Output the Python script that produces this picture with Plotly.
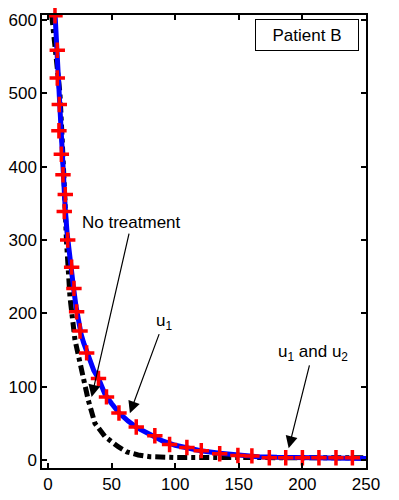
import plotly.graph_objects as go

# No treatment (black dash-dot)
x_none = [2.9, 4.3, 6.5, 9.4, 11, 12, 13.3, 14.5, 15.7, 17.3, 21.2, 25.1, 28.5, 31.6, 36.9, 44.7, 55.2, 62, 70.9, 80, 100, 130, 170, 210, 250]
y_none = [607, 580, 540, 500, 443, 416, 355, 300, 265, 222, 164, 132, 105, 82, 50, 32, 18, 11, 6.8, 4.5, 3.3, 3, 3, 3, 3]

# u1 (blue solid)
x_u1 = [5.5, 6.5, 7.5, 8.5, 9.5, 10.5, 11.5, 12.5, 13.5, 15, 16.5, 18, 20, 22, 24, 26, 28, 30.4, 33, 36, 40, 45, 50, 56, 63, 70, 80, 90, 100, 110, 120, 135, 150, 165, 180, 200, 225, 250]
y_u1 = [610, 575, 540, 500, 460, 425, 395, 368, 345, 310, 285, 262, 236, 210, 188, 172, 160, 147, 134, 122, 110, 89, 77, 64, 53, 44, 35, 26, 20, 16, 12.5, 9, 6.5, 4.5, 3.5, 3, 2.5, 2]

# u1 and u2 (red crosses)
x_u12 = [5.5, 7.3, 7.3, 8.9, 8.6, 10.5, 11.8, 13.6, 12.8, 15.5, 18.6, 20.4, 22.5, 25.2, 30.4, 39.7, 46, 55.8, 69.4, 84, 95.6, 109.2, 120.5, 135, 149.3, 160.3, 174, 186.9, 200, 213, 226.4, 239.3]
y_u12 = [606, 559, 521, 485, 449, 417, 389, 362, 339, 300, 263, 234, 202, 176, 146, 111, 86, 64, 45, 33, 21, 17, 12.7, 8.5, 6, 5.5, 3, 3, 3, 3, 3, 3]

x_ticks = [0, 50, 100, 150, 200, 250]
y_ticks = [0, 100, 200, 300, 400, 500, 600]

FONT = "Liberation Sans, Arial, sans-serif"

fig = go.Figure()
fig.add_trace(go.Scatter(x=x_none, y=y_none, mode="lines",
                         line=dict(color="black", width=5, dash="10px,4px,4px,4px"),
                         showlegend=False))
fig.add_trace(go.Scatter(x=x_u1, y=y_u1, mode="lines",
                         line=dict(color="#0000ff", width=5), showlegend=False))
fig.add_trace(go.Scatter(x=x_u12, y=y_u12, mode="markers",
                         marker=dict(symbol="cross-thin", size=11,
                                     line=dict(color="#ff0000", width=3.5)),
                         cliponaxis=False, showlegend=False))

ann_font = dict(family=FONT, size=17, color="black")
arrow = dict(showarrow=True, arrowhead=2, arrowsize=2, arrowwidth=1.2, arrowcolor="black")
fig.add_annotation(x=34.3, y=86, ax=65.7, ay=323.7, xref="x", yref="y", axref="x", ayref="y",
                   text="No treatment", font=ann_font, **arrow)
fig.add_annotation(x=64.4, y=63.7, ax=91, ay=188.7, xref="x", yref="y", axref="x", ayref="y",
                   text="u<sub>1</sub>", font=ann_font, **arrow)
fig.add_annotation(x=189.2, y=16, ax=208, ay=146, xref="x", yref="y", axref="x", ayref="y",
                   text="u<sub>1</sub> and u<sub>2</sub>", font=ann_font, **arrow)
fig.add_annotation(x=203.3, y=580, xref="x", yref="y", text="Patient B", showarrow=False,
                   font=ann_font, bordercolor="black", borderwidth=1, borderpad=1,
                   width=100, height=28, bgcolor="white")

axis_common = dict(showline=True, linecolor="black", linewidth=1.5, mirror="ticks",
                   ticks="inside", ticklen=5, tickwidth=1.5, tickcolor="black",
                   showgrid=False, zeroline=False, automargin=False,
                   tickfont=dict(family=FONT, size=17, color="black"))
fig.update_xaxes(range=[-4.7, 250], tickvals=x_ticks, **axis_common)
fig.update_yaxes(range=[-11, 607], tickvals=y_ticks, **axis_common)

fig.update_layout(width=399, height=500, margin=dict(l=42, r=33, t=15, b=32),
                  plot_bgcolor="white", paper_bgcolor="white")

fig.write_html("out.html", config={"displayModeBar": False},
               post_script="document.body.style.margin='0';")
